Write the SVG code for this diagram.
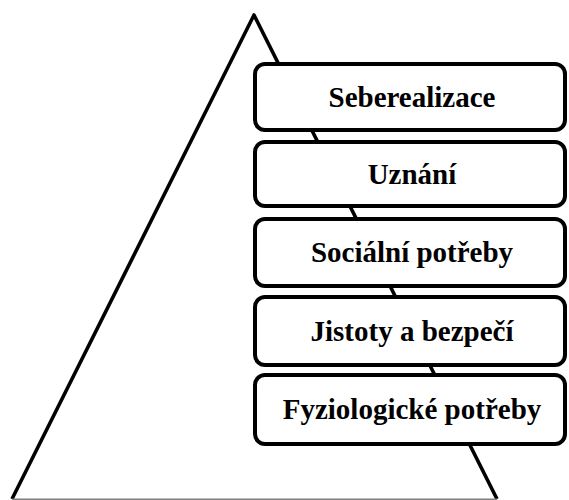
<svg xmlns="http://www.w3.org/2000/svg" width="569" height="500" viewBox="0 0 569 500">
<style>
.side{stroke:#000;stroke-width:3.6;fill:none;stroke-linecap:butt;stroke-linejoin:round}
.base{stroke:#808080;stroke-width:1.6}
.box{fill:#fff;stroke:#000;stroke-width:4}
.lbl{font-family:"Liberation Serif","Times New Roman",serif;font-weight:bold;font-size:29px;fill:#000;text-anchor:middle}
</style>
<rect width="569" height="500" fill="#fff"/>
<g id="connectors">
<polyline class="side" points="12,499 254,15 497,499"/>
<line class="base" x1="12" y1="499.2" x2="497" y2="499.2"/>
</g>
<g id="n1">
<rect class="box" x="255" y="64" width="310" height="66" rx="10"/>
<text class="lbl" x="412" y="107">Seberealizace</text>
</g>
<g id="n2">
<rect class="box" x="255" y="142" width="310" height="64" rx="10"/>
<text class="lbl" x="412" y="184">Uznání</text>
</g>
<g id="n3">
<rect class="box" x="255" y="219" width="310" height="67" rx="10"/>
<text class="lbl" x="412" y="262">Sociální potřeby</text>
</g>
<g id="n4">
<rect class="box" x="255" y="297" width="310" height="68" rx="10"/>
<text class="lbl" x="412" y="341">Jistoty a bezpečí</text>
</g>
<g id="n5">
<rect class="box" x="255" y="375" width="310" height="69" rx="10"/>
<text class="lbl" x="412" y="419">Fyziologické potřeby</text>
</g>
</svg>
